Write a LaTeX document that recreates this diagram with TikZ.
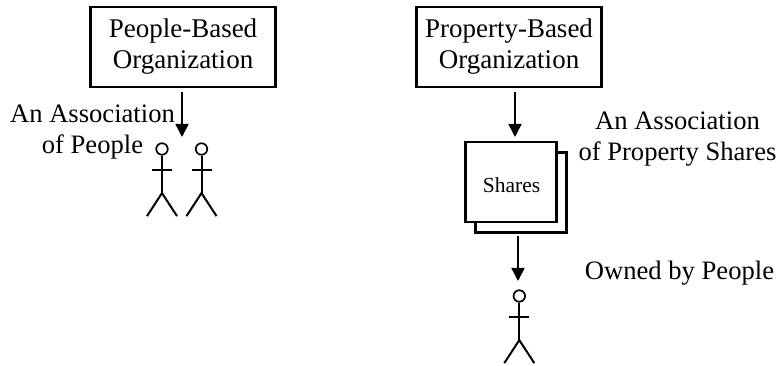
\documentclass[tikz,border=0pt]{standalone}
\usepackage{fontspec}
\setmainfont{Liberation Serif}
\usetikzlibrary{arrows.meta}
\tikzset{
  x=1pt,y=-1pt,
  line/.style={line width=2pt,black},
  boxed/.style={draw,line width=2.2pt,inner sep=0pt,align=center,font=\fontsize{27}{31}\selectfont},
  lab/.style={align=center,inner sep=0pt,font=\fontsize{26.6}{31}\selectfont},
  shbox/.style={draw,fill=white,line width=2.2pt,minimum width=91pt,minimum height=80pt,inner sep=0pt},
  flow/.style={line width=1.6pt,-{Triangle[length=13pt,width=13pt]}},
  head/.style={circle,draw,line width=1.7pt,minimum size=11.5pt,inner sep=0pt}
}
\newcommand{\stick}[2]{%
  \node[head] (h#1) at #2 {};
  \coordinate (c#1) at ([yshift=-37.5pt]h#1.south);
  \draw[line] (h#1.south) -- (c#1);
  \draw[line] ([yshift=-14.5pt,xshift=-10pt]h#1.south) -- ([yshift=-14.5pt,xshift=10pt]h#1.south);
  \draw[line] ([xshift=-15pt,yshift=-23pt]c#1) -- (c#1) -- ([xshift=15pt,yshift=-23pt]c#1);
}
\begin{document}
\begin{tikzpicture}
\useasboundingbox (0,0) rectangle (777,366);
\node[boxed,minimum width=185pt,minimum height=80pt] (pb) at (183,47) {People-Based\\Organization};
\node[boxed,minimum width=185pt,minimum height=80pt] (qb) at (509,47) {Property-Based\\Organization};
\node[shbox] (s2) at (521,192.5) {};
\node[shbox] (s1) at (511,182) {};
\node[inner sep=0pt,font=\fontsize{21.5}{24}\selectfont] (st) at (511.5,185) {Shares};
\node[lab] (l1) at (92.5,132) {An Association\\of People};
\node[lab] (l2) at (677.5,139) {An Association\\of Property Shares};
\node[lab] (l3) at (679.5,273) {Owned by People};
\stick{1}{(162,149)}
\stick{2}{(201.5,149)}
\stick{3}{(519.3,296)}
\coordinate (t1) at (182,137);
\coordinate (f1) at (182,92);
\coordinate (t2) at (515,137);
\coordinate (f2) at (515,92);
\coordinate (t3) at (518,281);
\coordinate (f3) at (518,236);
\draw[flow] (f1) -- (t1);
\draw[flow] (f2) -- (t2);
\draw[flow] (f3) -- (t3);
\end{tikzpicture}
\end{document}
